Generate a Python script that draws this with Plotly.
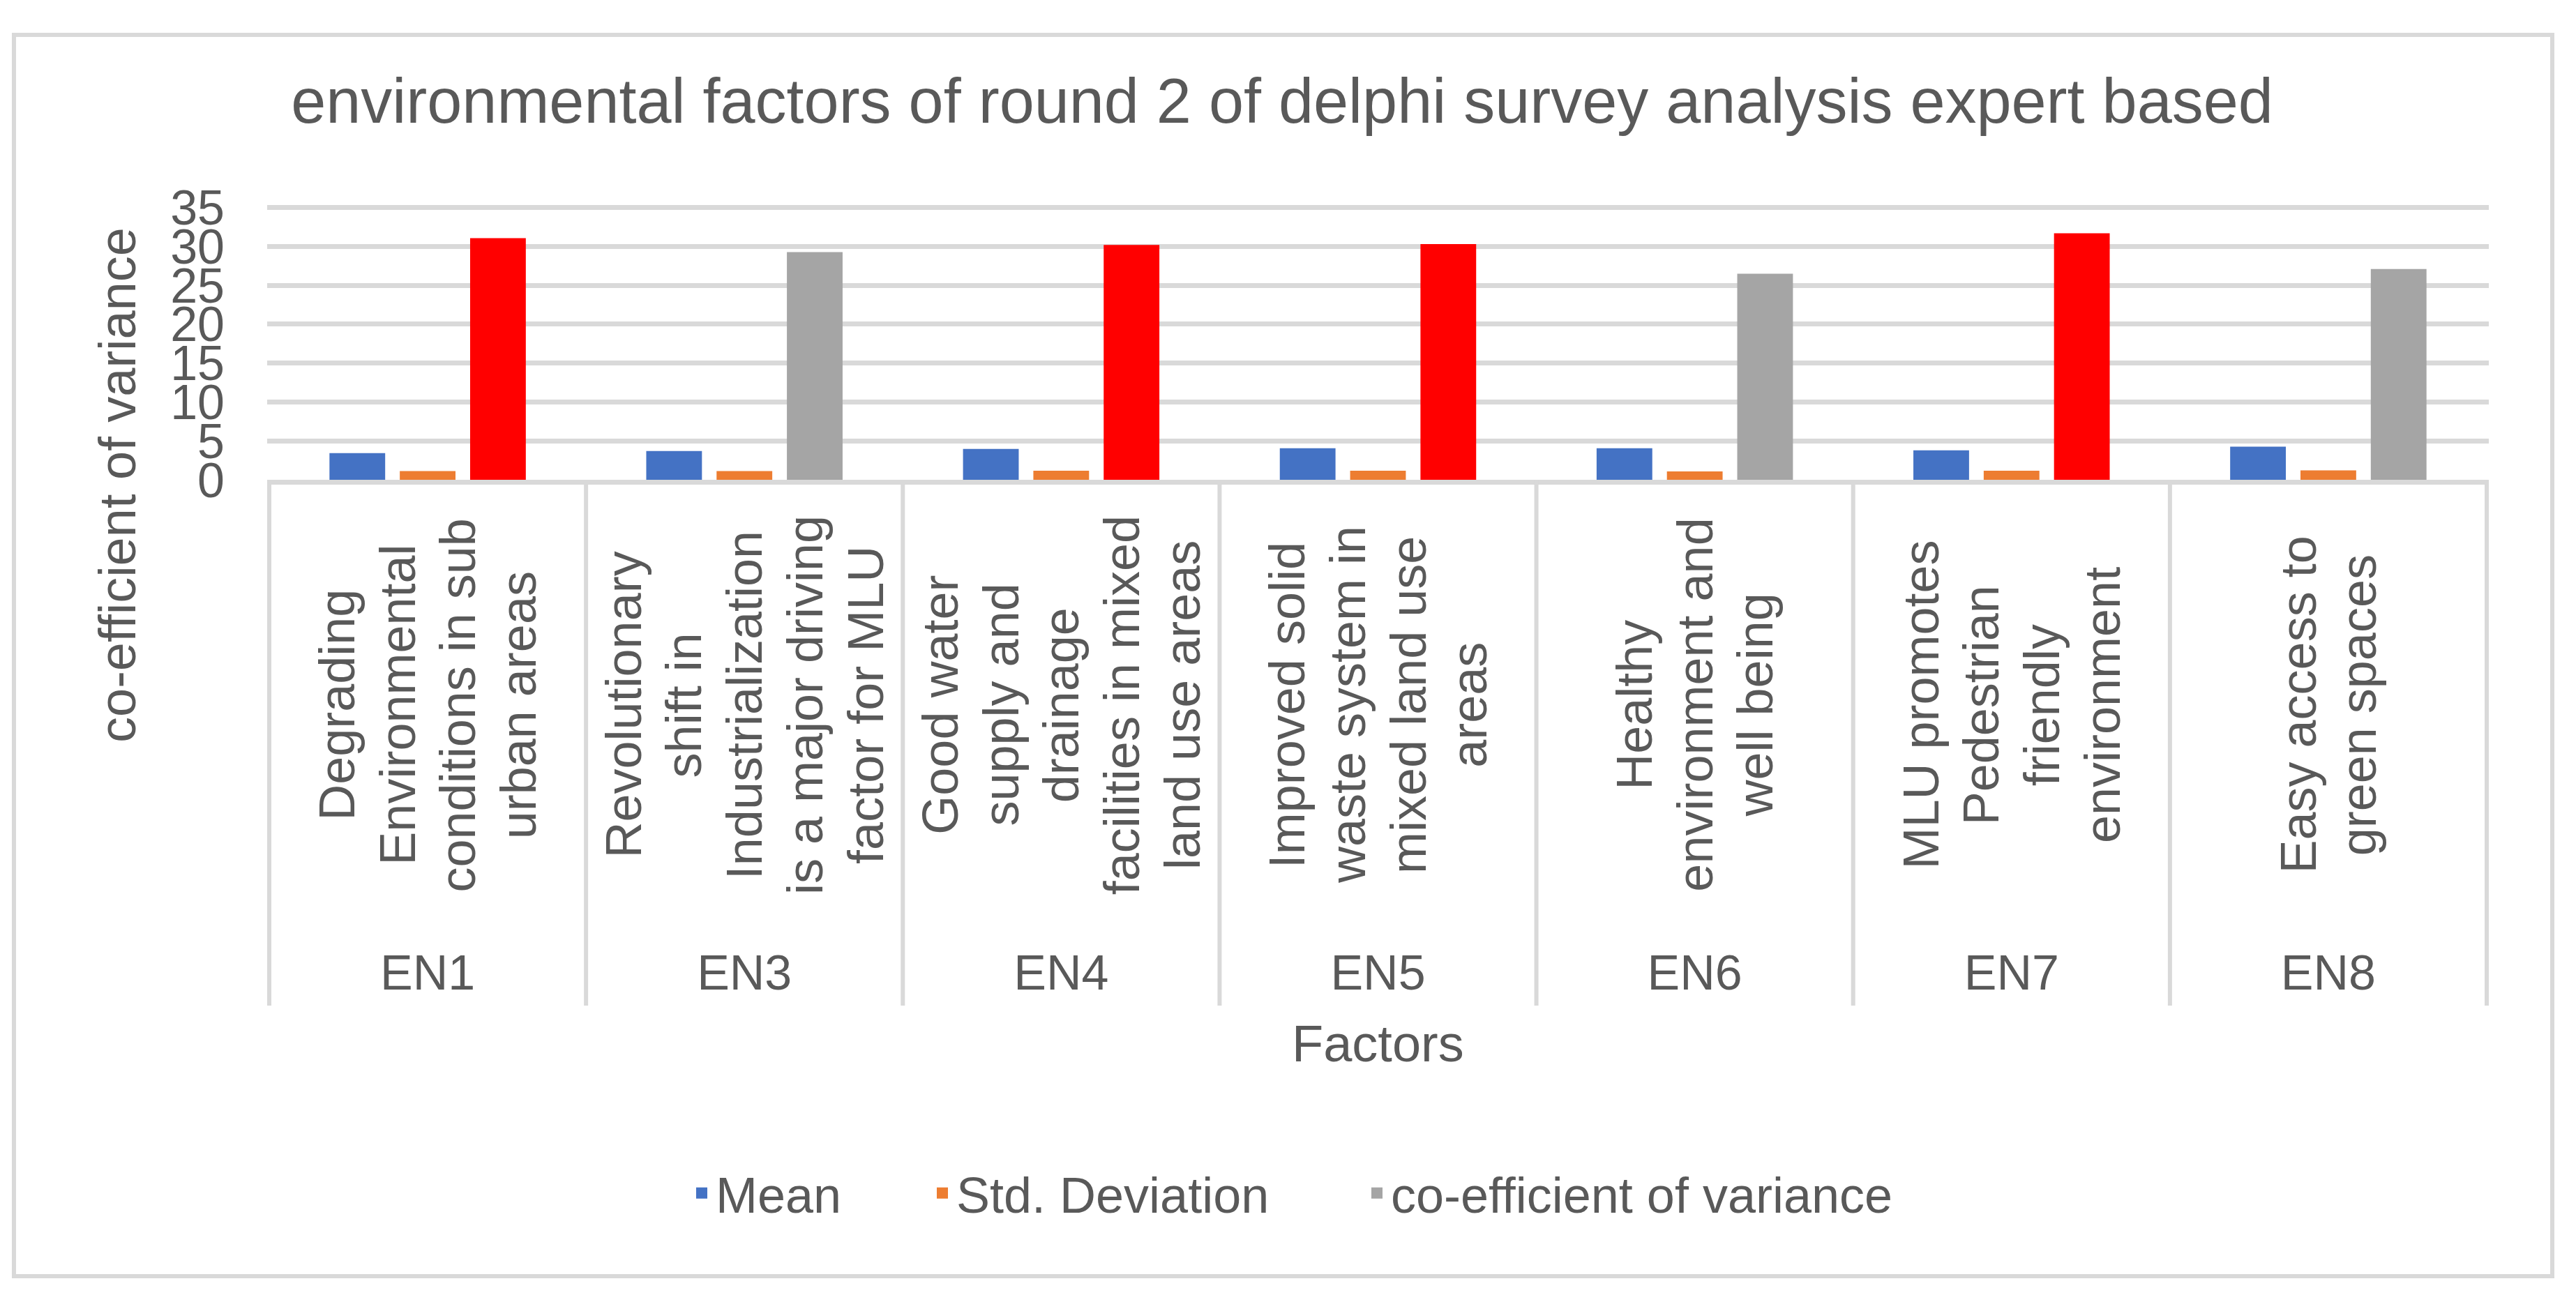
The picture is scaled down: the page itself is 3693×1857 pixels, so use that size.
import plotly.graph_objects as go

# ---------------- data ----------------
codes = ["EN1", "EN3", "EN4", "EN5", "EN6", "EN7", "EN8"]
descriptions = [
    ["Degrading", "Environmental", "conditions in sub", "urban areas"],
    ["Revolutionary", "shift in", "Industrialization", "is a major driving", "factor for MLU"],
    ["Good water", "supply and", "drainage", "facilities in mixed", "land use areas"],
    ["Improved solid", "waste system in", "mixed land use", "areas"],
    ["Healthy", "environment and", "well being"],
    ["MLU promotes", "Pedestrian", "friendly", "environment"],
    ["Easy access to", "green spaces"],
]
mean_vals = [3.44, 3.71, 3.96, 4.05, 4.05, 3.78, 4.25]
std_vals = [1.11, 1.11, 1.17, 1.17, 1.08, 1.17, 1.20]
cov_vals = [31.07, 29.28, 30.2, 30.3, 26.5, 31.7, 27.1]
y_ticks = [0, 5, 10, 15, 20, 25, 30, 35]

series_names = ["Mean", "Std. Deviation", "co-efficient of variance"]

# ---------------- styling ----------------
W, H = 3693, 1857
L, R, T, B = 383, 3568, 296, 688          # plot area in pixels
Y_MAX = 35.15                              # a hair above 35 so the top gridline is drawn
TXT = "#595959"
GRID = "#D9D9D9"
FONT = "Liberation Sans, Arial, sans-serif"
C_MEAN, C_STD, C_COV, C_HIGH = "#4472C4", "#ED7D31", "#A5A5A5", "#FF0000"
CAT_W = (R - L) / len(codes)               # pixel width of one category
LINE_STEP = 87 / CAT_W                     # label line spacing, in category units


def xp(px):
    return (px - L) / (R - L)


def yp(py):
    return (B - py) / (B - T)


cov_colors = [C_HIGH if v > 30 else C_COV for v in cov_vals]

fig = go.Figure()
fig.add_trace(go.Bar(x=codes, y=mean_vals, name=series_names[0], marker_color=C_MEAN,
                     showlegend=False, legendgroup="m"))
fig.add_trace(go.Bar(x=codes, y=std_vals, name=series_names[1], marker_color=C_STD,
                     showlegend=False, legendgroup="s"))
fig.add_trace(go.Bar(x=codes, y=cov_vals, name=series_names[2], marker_color=cov_colors,
                     showlegend=False, legendgroup="c"))

# legend entries (one legend per entry so each can be placed like the original)
for nm, col, grp, lg in [(series_names[0], C_MEAN, "m", "legend"),
                         (series_names[1], C_STD, "s", "legend2"),
                         (series_names[2], C_COV, "c", "legend3")]:
    fig.add_trace(go.Scatter(x=[None], y=[None], mode="markers", name=nm,
                             marker=dict(symbol="square", size=16, color=col),
                             legendgroup=grp, legend=lg, showlegend=True))

leg_common = dict(orientation="h", xref="container", yref="container",
                  yanchor="middle", y=1 - 1711 / H, xanchor="left",
                  font=dict(family=FONT, size=72, color=TXT), bgcolor="rgba(0,0,0,0)")

annotations = []
# long category descriptions (inner level of the category axis), one line each
for i, lines in enumerate(descriptions):
    n = len(lines)
    for k, ln in enumerate(lines):
        annotations.append(dict(x=i + (k - (n - 1) / 2) * LINE_STEP, xref="x",
                                y=yp(1011), yref="paper", text=ln,
                                textangle=-90, showarrow=False, align="center",
                                xanchor="center", yanchor="middle",
                                font=dict(family=FONT, size=72, color=TXT)))
# axis titles
annotations.append(dict(x=xp(168), xref="paper", y=yp(696), yref="paper",
                        text="co-efficient of variance", textangle=-90, showarrow=False,
                        xanchor="center", yanchor="middle",
                        font=dict(family=FONT, size=74, color=TXT)))
annotations.append(dict(x=0.5, xref="paper", y=yp(1496), yref="paper",
                        text="Factors", showarrow=False, xanchor="center", yanchor="middle",
                        font=dict(family=FONT, size=74, color=TXT)))

shapes = []
# category dividers of the multi-level axis
for i in range(len(codes) + 1):
    shapes.append(dict(type="line", xref="x", yref="paper", x0=i - 0.5, x1=i - 0.5,
                       y0=0, y1=yp(1442), line=dict(color=GRID, width=6)))
# chart border
shapes.append(dict(type="rect", xref="paper", yref="paper", x0=xp(20), x1=xp(3659),
                   y0=yp(1830), y1=yp(50), line=dict(color=GRID, width=6),
                   fillcolor="rgba(0,0,0,0)", layer="below"))

fig.update_layout(
    template="none",
    width=W, height=H,
    margin=dict(l=L, r=W - R, t=T, b=H - B, pad=0),
    paper_bgcolor="white", plot_bgcolor="white",
    barmode="group", bargap=0.334, bargroupgap=0.208,
    title=dict(text="environmental factors of round 2 of delphi survey analysis expert based",
               x=1838 / W, xref="container", xanchor="center",
               y=1 - 144 / H, yref="container", yanchor="middle",
               font=dict(family=FONT, size=90, color=TXT)),
    font=dict(family=FONT, color=TXT),
    xaxis=dict(type="category", showgrid=False, showline=True, linecolor=GRID, linewidth=7,
               ticks="", tickfont=dict(family=FONT, size=70, color=TXT),
               ticklabelstandoff=640, zeroline=False, automargin=False),
    yaxis=dict(range=[0, Y_MAX], tickvals=y_ticks, showgrid=True, gridcolor=GRID, gridwidth=7,
               showline=False, zeroline=False, ticks="",
               tickfont=dict(family=FONT, size=70, color=TXT),
               ticklabelstandoff=60, automargin=False),
    legend=dict(x=986 / W, **leg_common),
    legend2=dict(x=1331 / W, **leg_common),
    legend3=dict(x=1954 / W, **leg_common),
    annotations=annotations,
    shapes=shapes,
)

fig.write_html("out.html", config={"displayModeBar": False},
               post_script="document.body.style.margin='0px';document.body.style.overflow='hidden';")
